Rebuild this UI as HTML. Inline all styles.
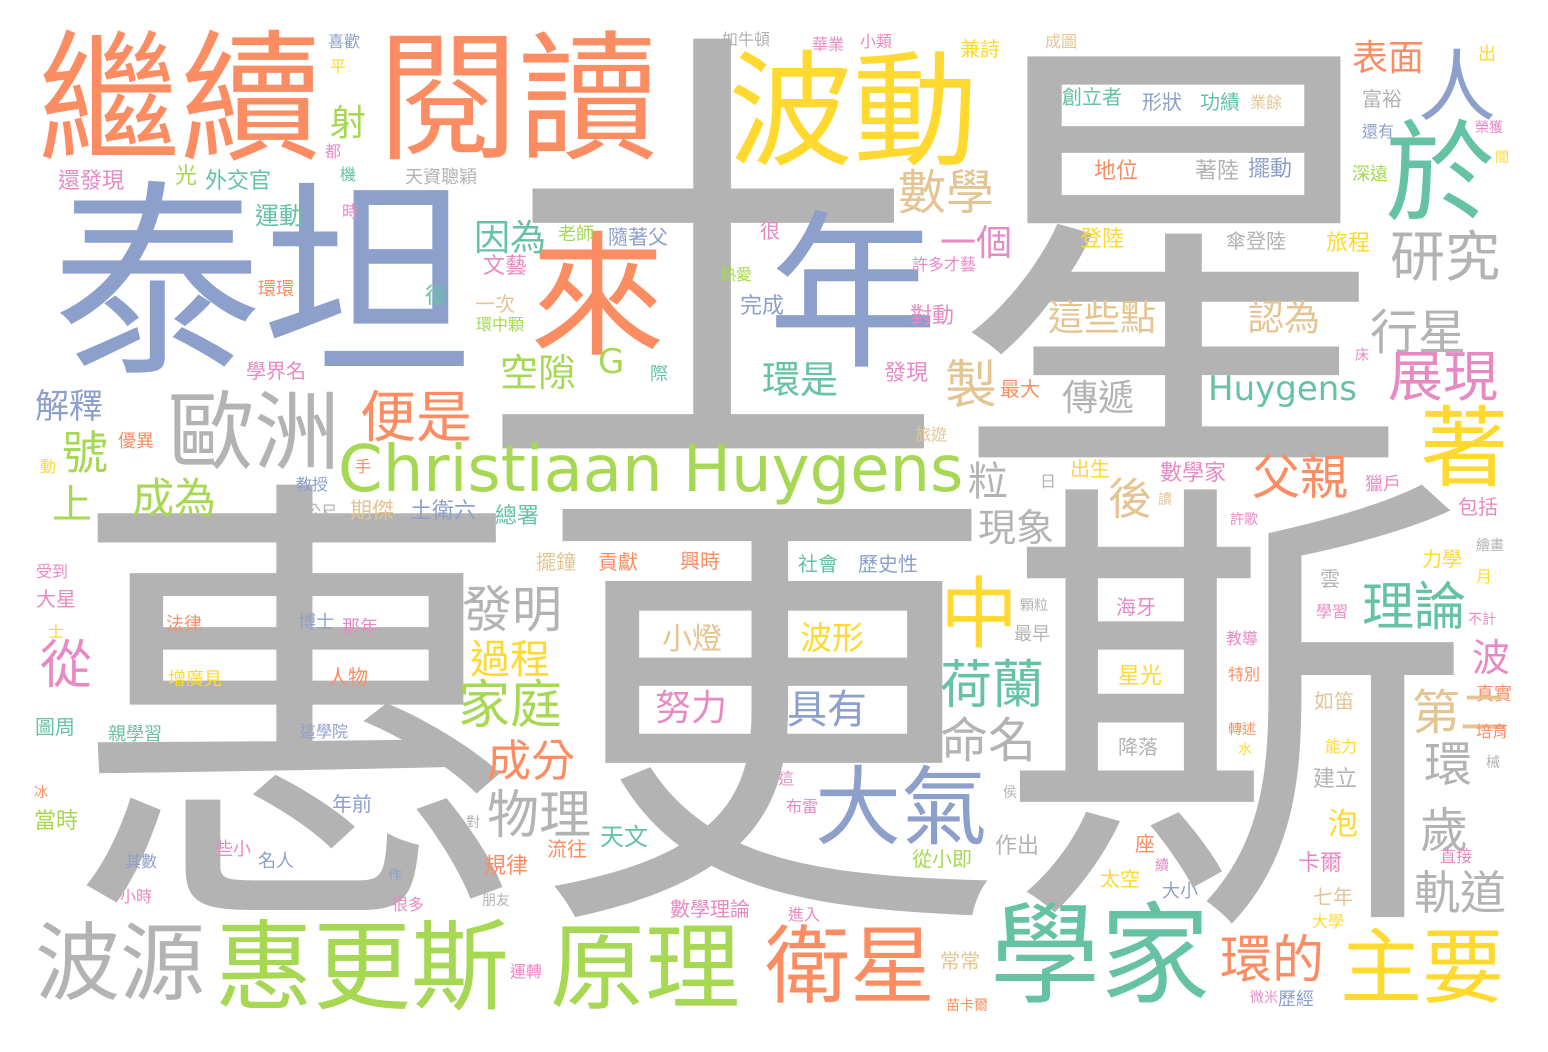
<!DOCTYPE html>
<html><head><meta charset="utf-8">
<style>
html,body{margin:0;padding:0;background:#fff}
#c{position:relative;width:1548px;height:1052px;overflow:hidden;background:#fff}
#c span{position:absolute;line-height:1;white-space:nowrap;font-family:"Liberation Sans","Noto Sans CJK TC","Noto Sans CJK SC",sans-serif}
#c span.lat{font-family:"DejaVu Sans","Liberation Sans",sans-serif}
</style></head><body>
<div id="c"></div>
<script>
const G="#b3b3b3",O="#fc8d62",B="#8da0cb",T="#66c2a5",Y="#ffd92f",L="#a6d854",P="#e78ac3",N="#e5c494";
const words=["土星","惠更斯","泰坦","繼續","閱讀","波動","來","年","於","人","Christiaan Huygens","歐洲","學家","惠更斯","原理","衛星","波源","主要","環的","著","大氣","中","荷蘭",
"射","喜歡","平","都","機","還發現","光","外交官","天資聰穎","運動","時","因為","老師","隨著父","文藝","環環","復","一次","環中顆","學界名","際","解釋","號","優異","動","手","上","成為","教授","公尺","期傑","土衛六","總署","空隙","G","便是",
"如牛頓","華業","小類","兼詩","成圖","出","表面","富裕","還有","深遠","榮獲","間","創立者","形狀","功績","業餘","地位","著陸","擺動","數學","很","一個","登陸","傘登陸","旅程","研究","熱愛","許多才藝","完成","對動","這些點","認為","行星","環是","發現","製","最大","傳遞","Huygens","展現","床",
"旅遊","日","出生","數學家","父親","後","粒","獵戶","包括","讀","許歌","現象","擺鐘","貢獻","興時","社會","歷史性","力學","繪畫","雲","月","受到","大星","發明","理論","學習","不計","士","法律","博士","那年","顆粒","最早","海牙","小燈","波形","過程","從","教導","波","增廣見","人物","家庭","星光","特別","真實","如笛","努力","具有","第二","圖周","親學習","這學院","命名","轉述","培育","降落","成分","水","能力","械","環","建立","這","冰","年前","物理","侯","布雷","當時","泡","歲","對","天文","作出","些小","座","其數","名人","規律","流往","從小即","續","卡爾","軌道","太空","大小","作","小時","很多","朋友","數學理論","進入","七年","大學","直接","運轉","常常","苗卡爾","微米","歷經"];
const xs=[478,62,52,38,378,728,530,768,1385,1418,338,168,990,215,550,765,35,1340,1220,1420,815,940,940,
330,328,330,325,340,58,175,205,405,255,342,474,558,608,483,258,425,475,476,246,650,35,62,118,40,355,52,132,296,305,350,410,495,500,598,360,
722,812,860,960,1045,1478,1352,1362,1362,1352,1475,1495,1062,1142,1200,1250,1094,1195,1248,898,760,940,1080,1226,1326,1390,720,912,740,910,1048,1248,1370,762,884,945,1000,1062,1208,1388,1355,
915,1040,1070,1160,1252,1108,968,1365,1458,1158,1230,978,536,598,680,798,858,1422,1476,1320,1476,36,36,462,1362,1316,1468,48,166,298,342,1020,1014,1116,662,800,470,40,1226,1472,168,328,458,1118,1228,1476,1314,655,787,1412,35,108,300,940,1228,1476,1118,487,1238,1325,1486,1424,1313,778,34,332,487,1003,786,34,1328,1420,466,600,995,215,1135,125,258,484,547,912,1155,1298,1414,1100,1162,388,120,392,482,670,788,1313,1312,1440,510,940,946,1250,1278];
const ys=[35,482,180,30,30,50,230,210,120,48,438,390,902,918,922,925,922,928,935,405,765,575,660,
105,35,60,145,168,170,165,170,168,205,205,220,225,228,255,280,285,295,318,362,365,390,430,432,460,460,485,478,478,505,500,500,505,355,345,390,
33,38,35,40,35,45,40,90,125,165,120,150,88,93,93,96,160,160,158,170,222,225,228,232,232,230,268,258,295,305,300,300,310,362,362,360,380,380,372,350,348,
428,475,460,462,455,478,462,475,498,492,512,510,553,553,552,555,555,550,538,570,570,565,590,585,582,605,612,625,615,613,618,598,625,598,625,622,640,640,632,640,670,668,680,665,668,685,692,690,690,690,718,725,725,718,722,725,738,740,742,740,755,742,768,772,785,795,790,785,800,810,810,808,815,826,835,840,835,855,852,855,840,850,858,852,870,870,882,868,890,898,893,900,908,888,915,850,965,952,998,990,990];
const sizes=[470,470,210,142,140,125,135,170,110,78,64,86,110,98,95,85,85,82,52,88,86,78,52,
36,16,16,16,16,22,22,22,18,24,16,36,18,20,22,18,22,20,16,20,18,34,46,18,16,16,40,42,16,16,22,22,22,38,34,56,
16,16,16,20,16,18,36,20,16,18,14,14,20,20,20,16,22,22,22,48,20,36,22,20,22,55,16,16,22,22,36,36,48,38,22,52,20,36,34,55,14,
16,16,20,22,48,44,40,18,20,14,14,38,20,20,20,20,20,20,14,20,16,16,20,50,52,16,14,16,18,18,18,14,18,20,30,32,40,52,16,38,18,20,52,22,16,18,20,36,40,48,20,18,16,48,14,16,20,44,14,16,14,48,22,16,14,20,52,14,16,22,30,48,14,24,22,18,20,16,18,22,20,20,14,22,46,20,18,14,16,16,14,20,16,20,16,16,16,20,14,14,18];
const colors=[G,G,B,O,O,Y,O,B,T,B,L,G,T,L,L,O,G,Y,O,Y,B,Y,T,
L,B,Y,P,T,P,L,T,G,T,P,T,L,B,P,O,T,N,L,P,T,B,L,O,Y,O,L,L,B,G,N,B,T,L,L,O,
G,P,P,Y,N,Y,O,G,B,L,P,Y,T,B,T,N,O,G,B,N,P,P,Y,G,Y,G,L,P,B,P,N,N,G,T,P,N,O,G,T,P,P,
N,G,Y,P,O,N,G,P,P,N,P,G,N,O,O,T,B,Y,G,G,Y,P,P,G,T,P,P,Y,O,B,P,G,G,P,N,Y,Y,P,P,P,Y,O,L,Y,O,O,N,P,B,N,T,T,B,G,O,O,G,O,Y,Y,G,G,G,P,O,B,G,G,P,L,Y,G,G,T,G,P,O,B,B,O,O,L,P,P,G,Y,B,B,P,P,G,P,P,N,Y,P,P,N,O,P,B];
const c=document.getElementById('c');
for(let i=0;i<words.length;i++){
  const s=document.createElement('span');
  
  
  s.textContent=words[i];
  if(/^[A-Za-z ]+$/.test(words[i])) s.className='lat';
  s.style.left=xs[i]+'px';
  s.style.top=ys[i]+'px';
  s.style.fontSize=sizes[i]+'px';
  s.style.color=colors[i]||G;
  c.appendChild(s);
}
</script>
</body></html>
